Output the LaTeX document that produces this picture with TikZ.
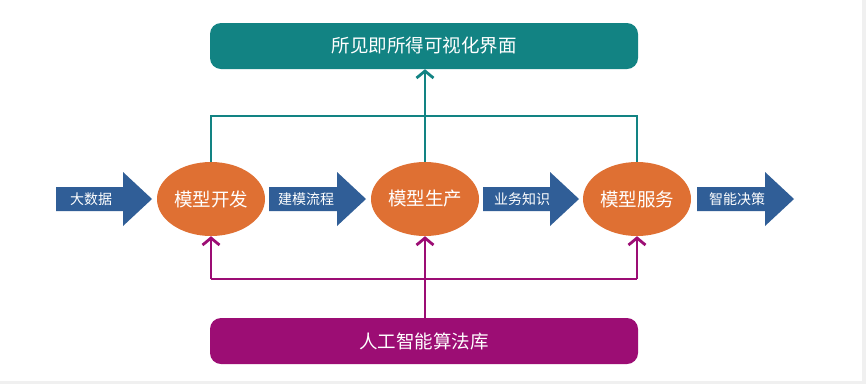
\documentclass[tikz,border=0pt]{standalone}
\usepackage{fontspec}
\newfontfamily\cjk{Noto Sans CJK SC}
\usetikzlibrary{shapes.geometric,arrows.meta}
\definecolor{tealc}{HTML}{128383}
\definecolor{purpc}{HTML}{9C0D74}
\definecolor{orangec}{HTML}{DF7033}
\definecolor{bluec}{HTML}{305E97}
\begin{document}
\begin{tikzpicture}[x=1pt,y=-1pt,
  bigbox/.style={rounded corners=11pt,minimum width=428pt,minimum height=46pt,inner sep=0pt,text=white,font=\cjk\fontsize{18.5}{20}\selectfont},
  ell/.style={ellipse,fill=orangec,minimum width=108pt,minimum height=74pt,inner sep=0pt,text=white,font=\cjk\fontsize{18.5}{20}\selectfont},
  tealline/.style={draw=tealc,line width=2.8pt},
  purpline/.style={draw=purpc,line width=2.8pt},
  barb/.style={-{Straight Barb[length=7pt,width=17pt,line width=2.8pt]}},
  blab/.style={text=white,inner sep=0pt,font=\cjk\fontsize{14}{16}\selectfont}
]
\useasboundingbox (0,0) rectangle (866,384);
\fill[white] (0,0) rectangle (866,384);
\fill[gray!12] (0,381) rectangle (866,384);
\fill[gray!12] (862,0) rectangle (866,384);

\node[bigbox,fill=tealc] (vis) at (424,46) {所见即所得可视化界面};
\node[bigbox,fill=purpc] (lib) at (424,341) {人工智能算法库};

\node[ell] (e1) at (211,199) {模型开发};
\node[ell] (e2) at (425,199) {模型生产};
\node[ell] (e3) at (637,199) {模型服务};

\coordinate (tj) at (425,116);
\coordinate (pj) at (425,279);

% teal connectors
\draw[tealline] (e1.north) -- (e1.north |- tj) -- (e3.north |- tj) -- (e3.north);
\draw[tealline,barb] (e2.north) -- (e2.north |- vis.south);

% purple connectors
\draw[purpline] (e1.south |- pj) -- (e3.south |- pj);
\draw[purpline,barb] (e1.south |- pj) -- (e1.south);
\draw[purpline,barb] (e3.south |- pj) -- (e3.south);
\draw[purpline,barb] (lib.north -| e2.south) -- (e2.south);

% block arrows
\newcommand{\blockarrow}[3]{%
  \fill[bluec] (#1,187) -- (#2,187) -- (#2,172) -- (#3,199) -- (#2,226) -- (#2,211) -- (#1,211) -- cycle;}
\blockarrow{56}{123}{152}
\blockarrow{269}{337}{366}
\blockarrow{483}{550}{579}
\blockarrow{697}{765}{794}
\node[blab] (l1) at (91,199) {大数据};
\node[blab] (l2) at (306,199) {建模流程};
\node[blab] (l3) at (522,199) {业务知识};
\node[blab] (l4) at (737,199) {智能决策};
\end{tikzpicture}
\end{document}
